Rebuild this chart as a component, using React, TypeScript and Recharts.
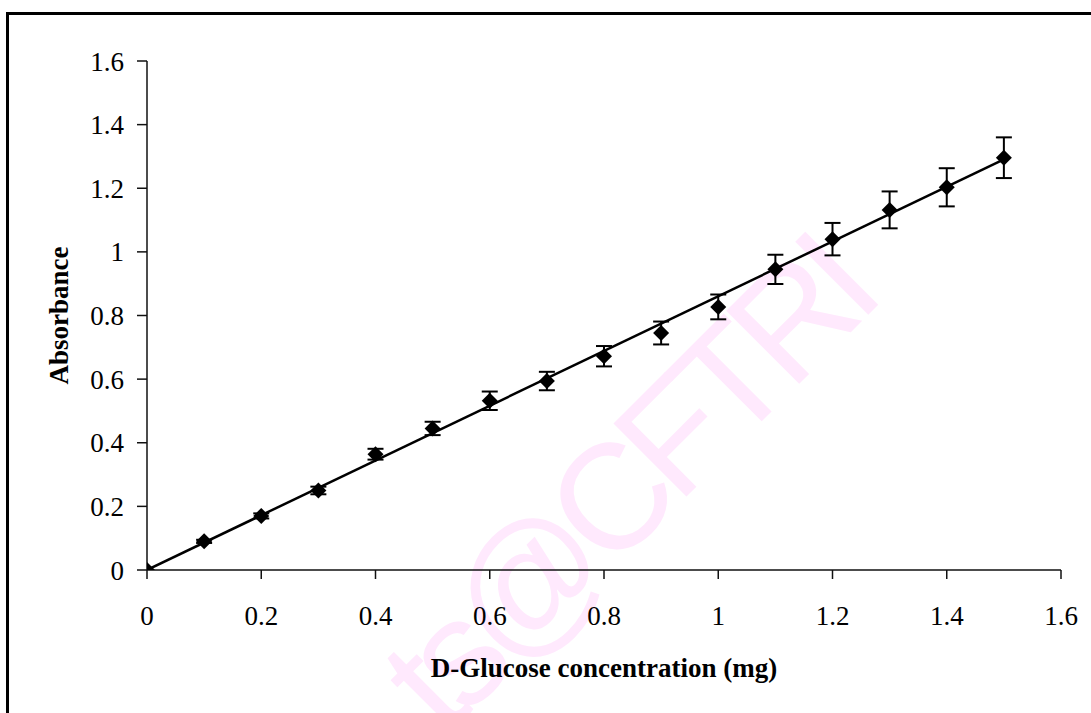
import React from "react";
import {
  ComposedChart,
  Line,
  Scatter,
  ErrorBar,
  XAxis,
  YAxis,
} from "recharts";

const concentration = [0, 0.1, 0.2, 0.3, 0.4, 0.5, 0.6, 0.7, 0.8, 0.9, 1.0, 1.1, 1.2, 1.3, 1.4, 1.5];
const absorbance = [0, 0.09, 0.17, 0.25, 0.364, 0.445, 0.532, 0.594, 0.672, 0.745, 0.827, 0.945, 1.04, 1.132, 1.203, 1.296];
const stdError = [0, 0.005, 0.008, 0.012, 0.017, 0.021, 0.029, 0.029, 0.032, 0.036, 0.039, 0.046, 0.051, 0.058, 0.06, 0.064];

// linear trendline through origin
const trendX = [0, 1.5];
const trendY = [0, 1.291];

const xTicks = [0, 0.2, 0.4, 0.6, 0.8, 1, 1.2, 1.4, 1.6];
const yTicks = [0, 0.2, 0.4, 0.6, 0.8, 1, 1.2, 1.4, 1.6];

const FONT = "'Liberation Serif', 'Times New Roman', serif";

const points = concentration.map((x, i) => ({ x, y: absorbance[i], err: stdError[i] }));
const trend = trendX.map((x, i) => ({ x, y: trendY[i] }));

const Diamond = (props: any) => {
  const { cx, cy } = props;
  if (cx == null || cy == null) return null;
  const r = 8;
  return (
    <polygon
      points={`${cx},${cy - r} ${cx + r},${cy} ${cx},${cy + r} ${cx - r},${cy}`}
      fill="#000"
    />
  );
};

const tickStyle = { fill: "#000", fontSize: 27, fontFamily: FONT };

export default function App() {
  return (
    <div
      style={{
        position: "absolute",
        left: 0,
        top: 0,
        width: 1091,
        height: 713,
        overflow: "hidden",
        background: "#fff",
      }}
    >
      <div
        style={{
          position: "absolute",
          left: 6,
          top: 12,
          width: 1200,
          height: 900,
          border: "3px solid #000",
        }}
      />
      {/* watermark */}
      <svg width={1091} height={713} style={{ position: "absolute", left: 0, top: 0 }}>
        <text
          x={445}
          y={738}
          textAnchor="start"
          transform="rotate(-45 445 738)"
          fontFamily="'Liberation Sans', Arial, sans-serif"
          fontSize={150}
          letterSpacing={-12}
          fill="#ffe9fd"
        >
          ts@CFTRI
        </text>
      </svg>
      <div style={{ position: "absolute", left: 0, top: 0 }}>
        <ComposedChart
          width={1091}
          height={713}
          margin={{ top: 61, right: 30, left: 0, bottom: 36 }}
        >
          <XAxis
            type="number"
            dataKey="x"
            domain={[0, 1.6]}
            ticks={xTicks}
            height={107}
            tick={tickStyle}
            tickSize={9}
            tickMargin={27}
            axisLine={{ stroke: "#111", strokeWidth: 1.5 }}
            tickLine={{ stroke: "#111", strokeWidth: 1.5 }}
            allowDataOverflow
            label={{
              value: "D-Glucose concentration (mg)",
              position: "insideBottom",
              offset: 0,
              style: { fill: "#000", fontSize: 27, fontWeight: "bold", fontFamily: FONT },
            }}
          />
          <YAxis
            type="number"
            dataKey="y"
            domain={[0, 1.6]}
            ticks={yTicks}
            width={147}
            tick={tickStyle}
            tickSize={10}
            tickMargin={13}
            axisLine={{ stroke: "#111", strokeWidth: 1.5 }}
            tickLine={{ stroke: "#111", strokeWidth: 1.5 }}
            allowDataOverflow
            label={{
              value: "Absorbance",
              angle: -90,
              position: "insideLeft",
              offset: 58,
              style: {
                fill: "#000",
                fontSize: 27,
                fontWeight: "bold",
                fontFamily: FONT,
                textAnchor: "middle",
              },
            }}
          />
          <Line
            data={trend}
            dataKey="y"
            type="linear"
            stroke="#000"
            strokeWidth={2.5}
            dot={false}
            activeDot={false}
            isAnimationActive={false}
          />
          <Scatter
            data={points}
            dataKey="y"
            shape={<Diamond />}
            isAnimationActive={false}
          >
            <ErrorBar
              dataKey="err"
              direction="y"
              width={8}
              stroke="#000"
              strokeWidth={2}
              isAnimationActive={false}
            />
          </Scatter>
        </ComposedChart>
      </div>
    </div>
  );
}
